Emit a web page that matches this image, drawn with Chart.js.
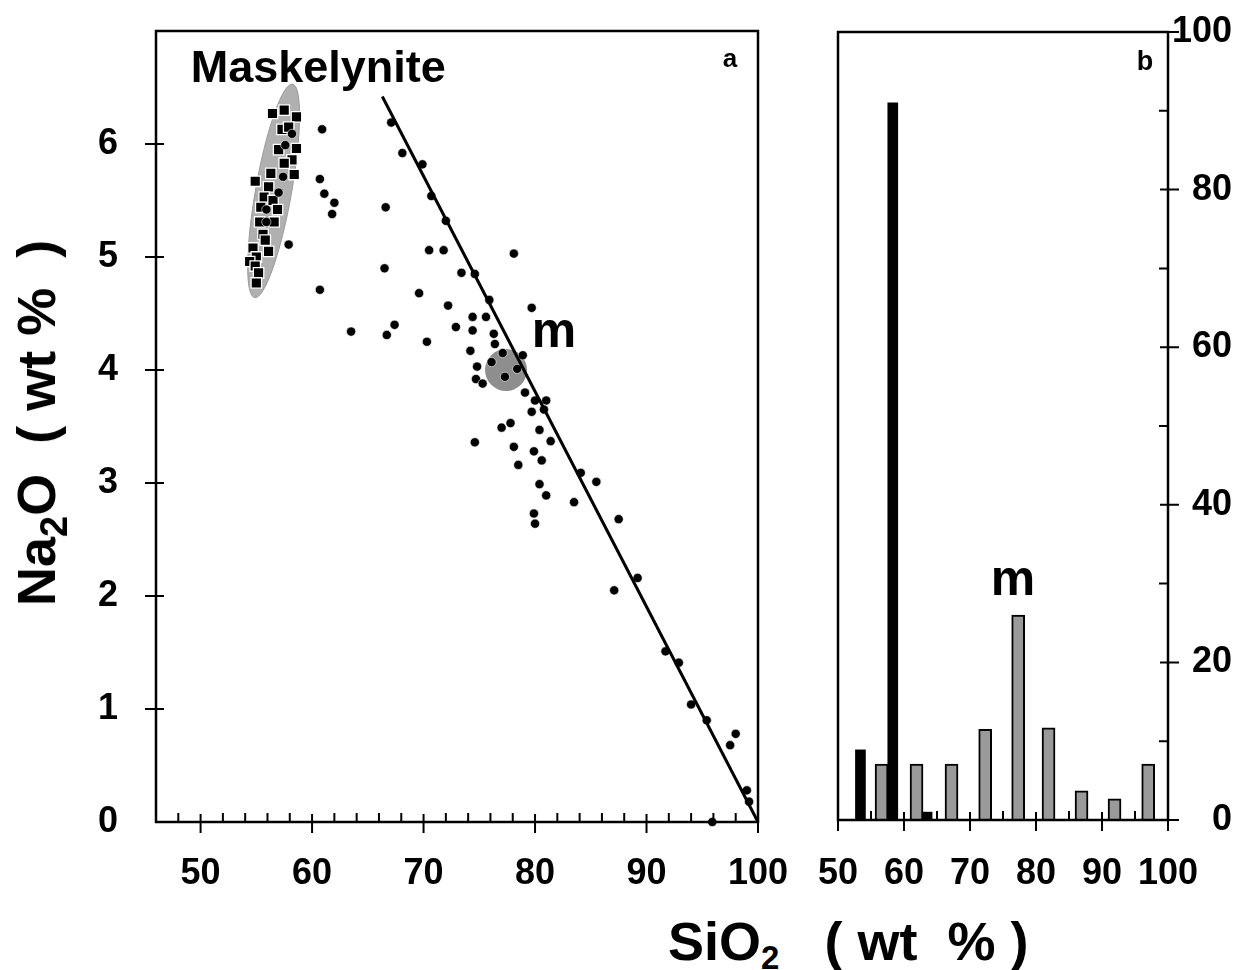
<!DOCTYPE html>
<html lang="en">
  <head>
    <meta charset="UTF-8" />
    <title>Na2O vs SiO2</title>
    <script src="https://cdn.jsdelivr.net/npm/chart.js"></script>
    <style>
      body { margin: 0; background: #fff; }
      .page {
        position: relative; width: 1244px; height: 970px; overflow: hidden;
        font-family: "Liberation Sans", Arial, sans-serif; font-weight: bold; color: #000;
      }
      canvas { position: absolute; top: 0; }
      #chartA { left: 0; }
      #chartB { left: 790px; }
      .title { position: absolute; font-size: 54px; line-height: 1; white-space: pre; }
      #xTitle { left: 668px; top: 914px; }
      #xTitle sub { font-size: 33px; vertical-align: -9px; line-height: 0; }
      #yTitle { left: 36px; top: 423px; transform: translate(-50%, -50%) rotate(-90deg); }
      #yTitle sub { font-size: 38px; vertical-align: -12px; line-height: 0; }
    </style>
  </head>

  <body>
    <div class="page">
      <canvas id="chartA" width="790" height="900"></canvas>
      <canvas id="chartB" width="454" height="900"></canvas>
      <div class="title" id="xTitle">SiO<sub>2</sub>   ( wt  % )</div>
      <div class="title" id="yTitle">Na<sub>2</sub>O  ( wt %  )</div>
    </div>

    <script>
      // panel a: single analyses (SiO2 / Na2O, wt %)
      const dotSiO2 = [60.9, 67.1, 68.1, 69.9, 70.7, 72.0, 60.7, 61.1, 62.0, 61.8, 66.6, 57.9,
        70.5, 71.8, 78.1, 66.5, 73.4, 74.6, 60.7, 69.6, 75.9, 72.2, 79.7, 74.4, 75.6, 72.9,
        74.4, 63.5, 66.7, 67.4, 70.3, 76.3, 74.2, 76.4, 77.1, 78.9, 76.1, 74.8, 78.4, 77.3,
        74.7, 75.3, 79.1, 80.0, 81.0, 80.8, 79.7, 77.8, 77.0, 80.4, 81.4, 74.6, 78.1, 79.9,
        80.6, 78.5, 84.1, 85.5, 80.4, 81.0, 83.5, 79.9, 80.0, 87.5, 89.2, 87.1, 91.7, 92.9,
        94.0, 95.4, 98.0, 97.5, 99.0, 99.2, 95.9,
        58.2, 57.6, 57.4, 57.0, 55.9, 55.9];
      const dotNa2O = [6.13, 6.19, 5.92, 5.82, 5.54, 5.32, 5.69, 5.56, 5.48, 5.38, 5.44, 5.11,
        5.06, 5.06, 5.03, 4.90, 4.86, 4.85, 4.71, 4.68, 4.62, 4.57, 4.55, 4.47, 4.47, 4.38,
        4.35, 4.34, 4.31, 4.40, 4.25, 4.32, 4.17, 4.23, 4.15, 4.13, 4.07, 4.03, 4.01, 3.94,
        3.92, 3.88, 3.80, 3.73, 3.73, 3.65, 3.63, 3.53, 3.49, 3.47, 3.37, 3.36, 3.32, 3.28,
        3.20, 3.16, 3.09, 3.01, 2.99, 2.89, 2.83, 2.73, 2.64, 2.68, 2.16, 2.05, 1.51, 1.41,
        1.04, 0.90, 0.78, 0.68, 0.28, 0.18, 0.00,
        6.09, 5.99, 5.71, 5.57, 5.42, 5.31];

      // maskelynite analyses (squares)
      const maskSiO2 = [56.45, 57.5, 58.6, 57.3, 57.9, 58.6, 57.0, 58.2, 57.5, 58.4, 56.3, 54.9,
        56.1, 55.7, 56.5, 55.4, 56.9, 55.3, 56.6, 55.6, 55.8, 54.7, 56.1, 55.0, 54.4, 54.9, 55.2, 55.0];
      const maskNa2O = [6.27, 6.30, 6.24, 6.13, 6.15, 5.96, 5.95, 5.86, 5.83, 5.73, 5.74, 5.67,
        5.62, 5.53, 5.50, 5.44, 5.42, 5.31, 5.31, 5.20, 5.15, 5.08, 5.05, 5.00, 4.96, 4.92, 4.86, 4.77];

      // mixing line
      const fitSiO2 = [66.3, 100];
      const fitNa2O = [6.42, 0];

      // panel b: histogram (% of analyses)
      const binMask = [53.4, 58.3, 63.5];
      const pctMask = [8.9, 91.0, 1.0];
      const binM = [56.6, 61.9, 67.2, 72.3, 77.3, 81.9, 86.9, 91.9, 97.0];
      const pctM = [7.1, 7.1, 7.1, 11.5, 26.0, 11.7, 3.7, 2.7, 7.1];

      // ticks
      const sio2Labels = [50, 60, 70, 80, 90, 100];
      const sio2MinorA = [48, 52, 54, 56, 58, 62, 64, 66, 68, 72, 74, 76, 78, 82, 84, 86, 88, 92, 94, 96, 98];
      const sio2MinorB = [55, 65, 75, 85, 95];
      const na2oLabels = [0, 1, 2, 3, 4, 5, 6];
      const pctLabels = [0, 20, 40, 60, 80, 100];
      const pctMinor = [10, 30, 50, 70, 90];

      const pairs = (xs, ys) => xs.map((v, i) => ({ x: v, y: ys[i] }));
      const tickFont = { family: '"Liberation Sans", Arial, sans-serif', size: 36, weight: 'bold' };
      const fixTicks = (vals) => (s) => { s.ticks = vals.map((v) => ({ value: v })); };

      // frame box plus ticks that cross the frame (major) or point inward (minor)
      const frameTicks = {
        id: 'frameTicks',
        afterDatasetsDraw(chart, args, o) {
          const { ctx, chartArea: a, scales } = chart;
          ctx.save();
          ctx.strokeStyle = '#000';
          ctx.lineWidth = 2.5;
          ctx.strokeRect(a.left, a.top, a.right - a.left, a.bottom - a.top);
          ctx.lineWidth = 2;
          ctx.beginPath();
          o.xMajor.forEach((v) => {
            const p = scales.x.getPixelForValue(v);
            ctx.moveTo(p, a.bottom - 8); ctx.lineTo(p, a.bottom + 11);
          });
          o.xMinor.forEach((v) => {
            const p = scales.x.getPixelForValue(v);
            ctx.moveTo(p, a.bottom - 9); ctx.lineTo(p, a.bottom);
          });
          const edge = o.ySide === 'left' ? a.left : a.right;
          const dir = o.ySide === 'left' ? -1 : 1;
          o.yMajor.forEach((v) => {
            const p = scales.y.getPixelForValue(v);
            ctx.moveTo(edge - dir * 8, p); ctx.lineTo(edge + dir * 11, p);
          });
          o.yMinor.forEach((v) => {
            const p = scales.y.getPixelForValue(v);
            ctx.moveTo(edge - dir * 9, p); ctx.lineTo(edge, p);
          });
          ctx.stroke();
          ctx.restore();
        },
      };

      function drawText(ctx, text, x, y, size, align) {
        ctx.font = 'bold ' + size + 'px "Liberation Sans", Arial, sans-serif';
        ctx.fillStyle = '#000';
        ctx.textAlign = align || 'center';
        ctx.textBaseline = 'alphabetic';
        ctx.fillText(text, x, y);
      }

      // grey fields and labels of panel a
      const annotA = {
        id: 'annotA',
        beforeDatasetsDraw(chart) {
          const { ctx, scales: { x, y } } = chart;
          ctx.save();
          // maskelynite field
          const x1 = x.getPixelForValue(54.85), y1 = y.getPixelForValue(4.64);
          const x2 = x.getPixelForValue(58.25), y2 = y.getPixelForValue(6.53);
          const len = Math.hypot(x2 - x1, y2 - y1) / 2;
          ctx.beginPath();
          ctx.ellipse((x1 + x2) / 2, (y1 + y2) / 2, len, 18, Math.atan2(y2 - y1, x2 - x1), 0, Math.PI * 2);
          ctx.fillStyle = '#b0b0b0';
          ctx.fill();
          ctx.strokeStyle = '#9a9a9a';
          ctx.lineWidth = 1;
          ctx.stroke();
          // field "m"
          ctx.beginPath();
          ctx.arc(x.getPixelForValue(77.4), y.getPixelForValue(4.0), 21, 0, Math.PI * 2);
          ctx.fillStyle = '#8e8e8e';
          ctx.fill();
          ctx.restore();
        },
        afterDraw(chart) {
          const { ctx, chartArea: a, scales: { x, y } } = chart;
          ctx.save();
          drawText(ctx, 'Maskelynite', x.getPixelForValue(60.55), y.getPixelForValue(6.55), 45);
          drawText(ctx, 'm', x.getPixelForValue(81.7), y.getPixelForValue(4.2), 50);
          drawText(ctx, 'a', a.right - 28, a.top + 36, 26);
          ctx.restore();
        },
      };

      const annotB = {
        id: 'annotB',
        afterDraw(chart) {
          const { ctx, chartArea: a, scales: { x, y } } = chart;
          ctx.save();
          drawText(ctx, 'm', x.getPixelForValue(76.5), y.getPixelForValue(28.6), 50);
          drawText(ctx, 'b', a.right - 23, a.top + 38, 27);
          ctx.restore();
        },
      };

      new Chart(document.getElementById('chartA'), {
        type: 'scatter',
        data: {
          datasets: [
            {
              data: pairs(fitSiO2, fitNa2O), showLine: true, borderColor: '#000',
              borderWidth: 3, pointRadius: 0, clip: false,
            },
            {
              data: pairs(dotSiO2, dotNa2O), pointStyle: 'circle', pointRadius: 4.6,
              backgroundColor: '#000', borderColor: '#fff', borderWidth: 0.6, clip: false,
            },
            {
              data: pairs(maskSiO2, maskNa2O), pointStyle: 'rect', pointRadius: 7.4,
              backgroundColor: '#000', borderColor: '#fff', borderWidth: 1.3, clip: false,
            },
          ],
        },
        options: {
          responsive: false, animation: false, events: [], devicePixelRatio: 1,
          layout: { padding: { top: 31, right: 32, bottom: 0, left: 0 } },
          plugins: {
            legend: { display: false }, tooltip: { enabled: false },
            frameTicks: { xMajor: sio2Labels, xMinor: sio2MinorA, yMajor: [1, 2, 3, 4, 5, 6], yMinor: [], ySide: 'left' },
          },
          scales: {
            x: {
              type: 'linear', min: 46, max: 100,
              grid: { display: false, drawTicks: false }, border: { display: false },
              ticks: { font: tickFont, color: '#000', padding: 30, maxRotation: 0, autoSkip: false },
              afterBuildTicks: fixTicks(sio2Labels),
              afterFit: (s) => { s.height = 78; s.paddingLeft = 0; s.paddingRight = 0; },
            },
            y: {
              min: 0, max: 7,
              grid: { display: false, drawTicks: false }, border: { display: false },
              ticks: { font: tickFont, color: '#000', padding: 38, autoSkip: false },
              afterBuildTicks: fixTicks(na2oLabels),
              afterFit: (s) => { s.width = 156; s.paddingTop = 0; s.paddingBottom = 0; },
            },
          },
        },
        plugins: [annotA, frameTicks],
      });

      new Chart(document.getElementById('chartB'), {
        type: 'bar',
        data: {
          datasets: [
            {
              data: pairs(binMask, pctMask), backgroundColor: '#000', borderWidth: 0,
              barThickness: 10, grouped: false,
            },
            {
              data: pairs(binM, pctM), backgroundColor: '#9a9a9a', borderColor: '#000',
              borderWidth: 2, barThickness: 13, grouped: false,
            },
          ],
        },
        options: {
          responsive: false, animation: false, events: [], devicePixelRatio: 1,
          layout: { padding: { top: 32, right: 12, bottom: 0, left: 48 } },
          plugins: {
            legend: { display: false }, tooltip: { enabled: false },
            frameTicks: { xMajor: sio2Labels, xMinor: sio2MinorB, yMajor: pctLabels, yMinor: pctMinor, ySide: 'right' },
          },
          scales: {
            x: {
              type: 'linear', min: 50, max: 100, offset: false,
              grid: { display: false, drawTicks: false }, border: { display: false },
              ticks: { font: tickFont, color: '#000', padding: 32, maxRotation: 0, autoSkip: false },
              afterBuildTicks: fixTicks(sio2Labels),
              afterFit: (s) => { s.height = 80; s.paddingLeft = 0; s.paddingRight = 0; },
            },
            y: {
              position: 'right', min: 0, max: 100,
              grid: { display: false, drawTicks: false }, border: { display: false },
              ticks: { font: tickFont, color: '#000', padding: 10, crossAlign: 'far', autoSkip: false },
              afterBuildTicks: fixTicks(pctLabels),
              afterFit: (s) => { s.width = 64; s.paddingTop = 0; s.paddingBottom = 0; },
            },
          },
        },
        plugins: [annotB, frameTicks],
      });
    </script>
  </body>
</html>
